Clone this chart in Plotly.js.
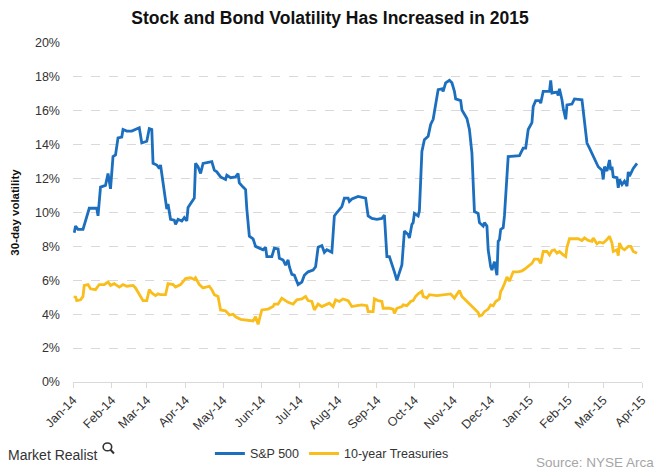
<!DOCTYPE html>
<html>
<head>
<meta charset="utf-8">
<script src="https://cdn.plot.ly/plotly-3.0.1.min.js"></script>
<style>html,body{margin:0;padding:0;background:#fff;}#chart{width:660px;height:471px;}</style>
</head>
<body>
<div id="chart"></div>
<script>
var chartTitle = "Stock and Bond Volatility Has Increased in 2015";
var yTitle = "30-day volatility";
var seriesNames = ["S&P 500", "10-year Treasuries"];
var sourceText = "Source: NYSE Arca";
var brandText = "Market Realist";

var spDates = ["2014-01-02","2014-01-03","2014-01-05","2014-01-09","2014-01-14","2014-01-20","2014-01-21","2014-01-23","2014-01-27","2014-01-29","2014-01-31",
"2014-02-02","2014-02-04","2014-02-06","2014-02-09","2014-02-10","2014-02-13","2014-02-17","2014-02-23","2014-02-25",
"2014-03-01","2014-03-03","2014-03-05","2014-03-06","2014-03-09","2014-03-11","2014-03-12","2014-03-13","2014-03-16","2014-03-17","2014-03-18","2014-03-20","2014-03-23","2014-03-24","2014-03-26","2014-03-29","2014-03-31",
"2014-04-02","2014-04-03","2014-04-06","2014-04-08","2014-04-09","2014-04-11","2014-04-13","2014-04-15","2014-04-22","2014-04-24","2014-04-26","2014-04-29",
"2014-05-03","2014-05-04","2014-05-07","2014-05-11","2014-05-13","2014-05-14","2014-05-17","2014-05-19","2014-05-20","2014-05-22","2014-05-25","2014-05-27","2014-05-30",
"2014-06-02","2014-06-04","2014-06-05","2014-06-09","2014-06-11","2014-06-14","2014-06-15","2014-06-18","2014-06-20","2014-06-22","2014-06-23","2014-06-25","2014-06-27","2014-06-30",
"2014-07-03","2014-07-05","2014-07-08","2014-07-12","2014-07-14","2014-07-16","2014-07-19","2014-07-21","2014-07-23","2014-07-27","2014-07-29","2014-07-31",
"2014-08-02","2014-08-04","2014-08-06","2014-08-09","2014-08-10","2014-08-12","2014-08-17","2014-08-23","2014-08-25","2014-08-28",
"2014-09-01","2014-09-05","2014-09-07","2014-09-09","2014-09-11","2014-09-13","2014-09-15","2014-09-17","2014-09-19","2014-09-21","2014-09-23","2014-09-26","2014-09-27","2014-09-29","2014-09-30",
"2014-10-01","2014-10-04","2014-10-05","2014-10-07","2014-10-09","2014-10-12","2014-10-14","2014-10-16","2014-10-18","2014-10-20","2014-10-23","2014-10-24","2014-10-26","2014-10-29","2014-10-31",
"2014-11-02","2014-11-03","2014-11-07","2014-11-08","2014-11-10","2014-11-12","2014-11-14","2014-11-16","2014-11-17","2014-11-18","2014-11-21","2014-11-22","2014-11-25","2014-11-26","2014-11-28","2014-11-29",
"2014-12-01","2014-12-02","2014-12-04","2014-12-06","2014-12-07","2014-12-08","2014-12-09","2014-12-11","2014-12-12","2014-12-15","2014-12-24","2014-12-27","2014-12-29","2014-12-31",
"2015-01-03","2015-01-04","2015-01-06","2015-01-09","2015-01-10","2015-01-12","2015-01-17","2015-01-18","2015-01-19","2015-01-23","2015-01-24","2015-01-25","2015-01-27","2015-01-28","2015-01-30","2015-01-31",
"2015-02-04","2015-02-06","2015-02-12","2015-02-14","2015-02-16","2015-02-18","2015-02-20","2015-02-22","2015-02-25","2015-02-28",
"2015-03-01","2015-03-02","2015-03-04","2015-03-06","2015-03-07","2015-03-08","2015-03-09","2015-03-12","2015-03-13","2015-03-14","2015-03-16","2015-03-18","2015-03-20","2015-03-21","2015-03-22","2015-03-25","2015-03-28"];

var spValues = [8.8,9.2,9.0,9.0,10.25,10.25,9.8,11.5,11.6,12.3,11.4,
13.3,13.4,14.4,14.45,14.9,14.8,14.8,15.0,14.1,
14.2,14.95,14.9,12.9,12.8,12.6,12.8,12.3,10.55,10.2,10.5,9.6,9.55,9.3,9.6,9.5,9.7,
9.5,10.3,10.65,10.85,12.9,12.7,12.3,12.9,13.0,12.5,12.4,12.1,
11.95,12.2,12.05,12.1,12.3,11.75,11.5,11.35,10.2,8.6,8.45,8.0,7.9,
7.8,7.95,7.4,7.4,7.9,7.85,7.3,7.2,6.9,7.2,6.8,6.35,6.3,5.75,
5.9,6.3,6.5,6.6,6.8,7.95,8.05,7.65,7.8,7.65,9.8,10.0,
10.2,10.35,10.85,10.85,10.65,10.8,10.95,10.85,9.8,9.65,
9.6,9.65,9.85,7.4,7.4,7.0,6.5,6.0,6.45,6.9,8.9,8.7,8.5,9.3,9.4,
9.95,9.8,10.1,13.6,14.3,14.5,15.2,15.5,16.5,17.25,17.3,17.15,17.65,17.8,17.65,
17.15,16.7,16.6,16.05,15.8,15.55,14.9,13.5,11.75,10.05,9.95,9.4,9.2,9.4,9.2,7.8,
6.8,6.6,7.1,6.3,8.3,8.4,9.0,9.1,9.8,13.3,13.35,13.8,13.8,14.9,
15.3,16.25,16.6,16.6,16.45,17.15,17.15,17.8,17.05,17.1,16.9,17.3,16.65,16.15,15.5,16.35,
16.4,16.7,16.65,15.5,14.1,13.8,13.5,13.1,12.7,12.5,
11.95,12.7,12.45,13.1,12.5,12.7,12.1,12.05,11.45,11.95,11.65,11.85,11.55,12.4,12.15,12.6,12.9];

var tyDates = ["2014-01-02","2014-01-03","2014-01-04","2014-01-07","2014-01-09","2014-01-10","2014-01-13","2014-01-15","2014-01-19","2014-01-22","2014-01-26","2014-01-29","2014-01-31",
"2014-02-03","2014-02-07","2014-02-10","2014-02-13","2014-02-18","2014-02-20","2014-02-23","2014-02-26",
"2014-03-01","2014-03-03","2014-03-05","2014-03-08","2014-03-10","2014-03-12","2014-03-16","2014-03-18","2014-03-22","2014-03-24","2014-03-28",
"2014-04-01","2014-04-05","2014-04-08","2014-04-09","2014-04-12","2014-04-15","2014-04-20","2014-04-22","2014-04-24","2014-04-27","2014-04-29",
"2014-05-03","2014-05-06","2014-05-09","2014-05-11","2014-05-15","2014-05-21","2014-05-25","2014-05-27","2014-05-29",
"2014-06-01","2014-06-06","2014-06-10","2014-06-11","2014-06-14","2014-06-17","2014-06-19","2014-06-22","2014-06-26","2014-06-29",
"2014-07-03","2014-07-06","2014-07-08","2014-07-11","2014-07-13","2014-07-16","2014-07-19","2014-07-23","2014-07-25","2014-07-28","2014-07-30",
"2014-08-02","2014-08-05","2014-08-09","2014-08-12","2014-08-16","2014-08-20","2014-08-24","2014-08-25","2014-08-29","2014-08-30",
"2014-09-02","2014-09-05","2014-09-06","2014-09-11","2014-09-14","2014-09-15","2014-09-17","2014-09-19","2014-09-21","2014-09-22","2014-09-25","2014-09-28","2014-09-30",
"2014-10-02","2014-10-04","2014-10-07","2014-10-08","2014-10-11","2014-10-13","2014-10-19","2014-10-24","2014-10-28","2014-10-30",
"2014-11-02","2014-11-04","2014-11-06","2014-11-08","2014-11-10","2014-11-14","2014-11-18","2014-11-21","2014-11-22","2014-11-24","2014-11-26","2014-11-29",
"2014-12-01","2014-12-03","2014-12-05","2014-12-08","2014-12-09","2014-12-10","2014-12-12","2014-12-14","2014-12-16","2014-12-18","2014-12-19","2014-12-23","2014-12-26","2014-12-28","2014-12-31",
"2015-01-03","2015-01-05","2015-01-08","2015-01-10","2015-01-12","2015-01-15","2015-01-17","2015-01-19","2015-01-21","2015-01-23","2015-01-25","2015-01-28","2015-01-30","2015-01-31",
"2015-02-02","2015-02-05","2015-02-09","2015-02-12","2015-02-14","2015-02-17","2015-02-20","2015-02-21","2015-02-24","2015-02-26",
"2015-03-01","2015-03-04","2015-03-06","2015-03-08","2015-03-09","2015-03-12","2015-03-13","2015-03-14","2015-03-16","2015-03-18","2015-03-21","2015-03-23","2015-03-25","2015-03-28"];

var tyValues = [4.95,5.05,4.8,4.85,5.05,5.7,5.75,5.5,5.45,5.75,5.75,5.9,5.7,
5.8,5.6,5.75,5.65,5.7,5.55,5.15,4.8,
4.8,5.45,5.25,5.1,5.2,5.15,5.15,5.8,5.75,5.6,5.75,
6.1,6.15,6.05,6.15,5.75,5.55,5.65,5.45,5.15,5.05,4.25,
4.2,3.95,4.0,3.85,3.7,3.65,3.6,3.85,3.4,
4.25,4.3,4.45,4.6,4.6,4.95,4.85,4.7,4.6,4.85,
4.9,5.05,4.8,4.75,4.25,4.6,4.45,4.6,4.65,4.45,4.85,
4.75,4.9,4.8,4.45,4.5,4.55,4.5,4.15,4.15,4.9,
4.8,4.75,4.35,4.35,4.3,4.05,4.35,4.4,4.45,4.55,4.5,4.75,4.8,
5.05,5.2,5.35,5.05,4.95,5.15,5.1,5.15,5.2,5.2,
4.95,5.15,5.4,5.05,4.9,4.65,4.35,4.1,3.9,3.95,4.15,4.3,
4.55,4.5,4.75,4.9,5.35,5.45,5.8,6.2,5.95,6.35,6.5,6.5,6.55,6.65,6.8,
7.0,7.25,7.25,7.0,7.7,7.7,7.5,7.75,7.8,7.6,7.7,7.5,7.4,7.95,
8.45,8.45,8.45,8.35,8.5,8.35,8.3,8.5,8.15,8.25,
8.2,8.4,8.6,8.2,7.7,7.8,7.45,8.2,7.9,7.8,8.0,8.0,7.7,7.6];

var fontFam = "Liberation Sans, Arial, sans-serif";

var traces = [
  {x: spDates, y: spValues, name: seriesNames[0], type: "scatter", mode: "lines",
   line: {color: "#1c6fbf", width: 2.8}},
  {x: tyDates, y: tyValues, name: seriesNames[1], type: "scatter", mode: "lines",
   line: {color: "#f9bd1c", width: 2.8}}
];

var layout = {
  width: 660, height: 471,
  margin: {l: 73, r: 18, t: 43, b: 89, autoexpand: false},
  paper_bgcolor: "#ffffff", plot_bgcolor: "#ffffff",
  font: {family: fontFam, size: 12, color: "#333333"},
  title: {text: "<b>" + chartTitle + "</b>", font: {family: fontFam, size: 17.5, color: "#111111"},
          x: 0.5, xref: "container", xanchor: "center", y: 0.962, yref: "container", yanchor: "middle"},
  showlegend: true,
  legend: {orientation: "h", x: 0.455, xanchor: "center", y: -0.212, yanchor: "middle",
           font: {family: fontFam, size: 12.5, color: "#333333"}, itemwidth: 30, tracegroupgap: 0},
  xaxis: {type: "date", range: ["2014-01-01", "2015-04-01"], dtick: "M1", tick0: "2014-01-01",
          tickformat: "%b-%y", tickangle: -45, showgrid: false, zeroline: false, automargin: false,
          showline: true, linecolor: "#d9d9d9", linewidth: 1,
          ticks: "outside", ticklen: 5, tickcolor: "#d9d9d9",
          tickfont: {family: fontFam, size: 12.5, color: "#333333"}},
  yaxis: {range: [0, 20], dtick: 2, ticksuffix: "%", showgrid: true, gridcolor: "#d9d9d9",
          griddash: "dash", gridwidth: 1, zeroline: false, showline: false, ticks: "", automargin: false,
          ticklabelstandoff: 12,
          tickfont: {family: fontFam, size: 12.5, color: "#333333"},
          title: {text: "<b>" + yTitle + "</b>", font: {family: fontFam, size: 11.5, color: "#111111"}, standoff: 12}},
  annotations: [
    {xref: "paper", yref: "paper", x: 0.0475, y: -0.216, xanchor: "right", yanchor: "middle",
     text: brandText, showarrow: false, font: {family: fontFam, size: 14, color: "#333333"}},
    {xref: "paper", yref: "paper", x: 1.024, y: -0.237, xanchor: "right", yanchor: "middle",
     text: sourceText, showarrow: false, font: {family: "Liberation Sans Narrow, Liberation Sans, sans-serif", size: 13.5, color: "#a6a6a6"}}
  ],
  shapes: [
    {type: "circle", xref: "paper", yref: "paper", x0: 0.053, x1: 0.068, y0: -0.203, y1: -0.180,
     line: {color: "#333333", width: 1.6}},
    {type: "line", xref: "paper", yref: "paper", x0: 0.066, x1: 0.072, y0: -0.200, y1: -0.211,
     line: {color: "#333333", width: 2}}
  ]
};

Plotly.newPlot("chart", traces, layout, {displayModeBar: false, staticPlot: true});
</script>
</body>
</html>
